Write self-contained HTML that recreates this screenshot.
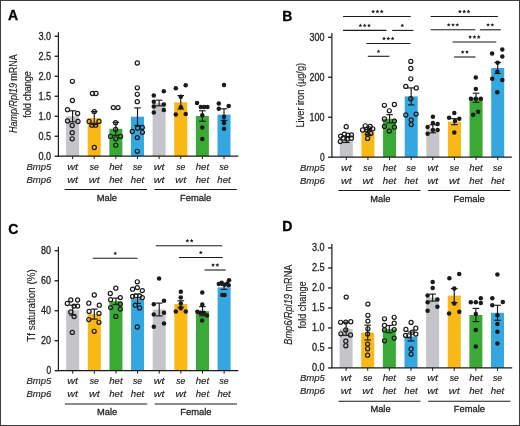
<!DOCTYPE html>
<html><head><meta charset="utf-8"><style>
html,body{margin:0;padding:0;background:#fff;}
body{width:520px;height:426px;overflow:hidden;}
svg{display:block;font-family:"Liberation Sans", sans-serif;will-change:transform;} text{stroke:#222;stroke-width:0.15px;} .tk{stroke-width:0.3px;}
</style></head><body>
<svg width="520" height="426" viewBox="0 0 520 426">
<rect x="0" y="0" width="520" height="426" fill="#fff"/>
<rect x="66.10" y="116.30" width="13.0" height="39.80" fill="#c5c4c9"/>
<rect x="87.73" y="118.10" width="13.0" height="38.00" fill="#fab815"/>
<rect x="109.36" y="128.80" width="13.0" height="27.30" fill="#3aa935"/>
<rect x="130.99" y="116.70" width="13.0" height="39.40" fill="#35a7e0"/>
<rect x="152.62" y="103.00" width="13.0" height="53.10" fill="#c5c4c9"/>
<rect x="174.25" y="102.30" width="13.0" height="53.80" fill="#fab815"/>
<rect x="195.88" y="116.00" width="13.0" height="40.10" fill="#3aa935"/>
<rect x="217.51" y="114.60" width="13.0" height="41.50" fill="#35a7e0"/>
<line x1="72.60" y1="110.80" x2="72.60" y2="121.80" stroke="#1a1a1a" stroke-width="1.15"/>
<line x1="69.30" y1="110.80" x2="75.90" y2="110.80" stroke="#1a1a1a" stroke-width="1.15"/>
<line x1="69.30" y1="121.80" x2="75.90" y2="121.80" stroke="#1a1a1a" stroke-width="1.15"/>
<line x1="94.23" y1="111.60" x2="94.23" y2="124.60" stroke="#1a1a1a" stroke-width="1.15"/>
<line x1="90.93" y1="111.60" x2="97.53" y2="111.60" stroke="#1a1a1a" stroke-width="1.15"/>
<line x1="90.93" y1="124.60" x2="97.53" y2="124.60" stroke="#1a1a1a" stroke-width="1.15"/>
<line x1="115.86" y1="122.30" x2="115.86" y2="135.30" stroke="#1a1a1a" stroke-width="1.15"/>
<line x1="112.56" y1="122.30" x2="119.16" y2="122.30" stroke="#1a1a1a" stroke-width="1.15"/>
<line x1="112.56" y1="135.30" x2="119.16" y2="135.30" stroke="#1a1a1a" stroke-width="1.15"/>
<line x1="137.49" y1="107.90" x2="137.49" y2="125.50" stroke="#1a1a1a" stroke-width="1.15"/>
<line x1="134.19" y1="107.90" x2="140.79" y2="107.90" stroke="#1a1a1a" stroke-width="1.15"/>
<line x1="134.19" y1="125.50" x2="140.79" y2="125.50" stroke="#1a1a1a" stroke-width="1.15"/>
<line x1="159.12" y1="100.20" x2="159.12" y2="105.80" stroke="#1a1a1a" stroke-width="1.15"/>
<line x1="155.82" y1="100.20" x2="162.42" y2="100.20" stroke="#1a1a1a" stroke-width="1.15"/>
<line x1="155.82" y1="105.80" x2="162.42" y2="105.80" stroke="#1a1a1a" stroke-width="1.15"/>
<line x1="180.75" y1="95.60" x2="180.75" y2="109.00" stroke="#1a1a1a" stroke-width="1.15"/>
<line x1="177.45" y1="95.60" x2="184.05" y2="95.60" stroke="#1a1a1a" stroke-width="1.15"/>
<line x1="177.45" y1="109.00" x2="184.05" y2="109.00" stroke="#1a1a1a" stroke-width="1.15"/>
<line x1="202.38" y1="110.80" x2="202.38" y2="121.20" stroke="#1a1a1a" stroke-width="1.15"/>
<line x1="199.08" y1="110.80" x2="205.68" y2="110.80" stroke="#1a1a1a" stroke-width="1.15"/>
<line x1="199.08" y1="121.20" x2="205.68" y2="121.20" stroke="#1a1a1a" stroke-width="1.15"/>
<line x1="224.01" y1="108.80" x2="224.01" y2="120.40" stroke="#1a1a1a" stroke-width="1.15"/>
<line x1="220.71" y1="108.80" x2="227.31" y2="108.80" stroke="#1a1a1a" stroke-width="1.15"/>
<line x1="220.71" y1="120.40" x2="227.31" y2="120.40" stroke="#1a1a1a" stroke-width="1.15"/>
<circle cx="72.40" cy="81.30" r="2.05" fill="none" stroke="#1a1a1a" stroke-width="1.2"/>
<circle cx="72.40" cy="100.50" r="2.05" fill="none" stroke="#1a1a1a" stroke-width="1.2"/>
<circle cx="67.50" cy="109.70" r="2.05" fill="none" stroke="#1a1a1a" stroke-width="1.2"/>
<circle cx="77.60" cy="113.50" r="2.05" fill="none" stroke="#1a1a1a" stroke-width="1.2"/>
<circle cx="67.50" cy="121.00" r="2.05" fill="none" stroke="#1a1a1a" stroke-width="1.2"/>
<circle cx="78.00" cy="121.50" r="2.05" fill="none" stroke="#1a1a1a" stroke-width="1.2"/>
<circle cx="72.20" cy="125.50" r="2.05" fill="none" stroke="#1a1a1a" stroke-width="1.2"/>
<circle cx="72.20" cy="132.70" r="2.05" fill="none" stroke="#1a1a1a" stroke-width="1.2"/>
<circle cx="72.20" cy="138.80" r="2.05" fill="none" stroke="#1a1a1a" stroke-width="1.2"/>
<circle cx="92.40" cy="93.50" r="2.05" fill="none" stroke="#1a1a1a" stroke-width="1.2"/>
<circle cx="96.00" cy="93.50" r="2.05" fill="none" stroke="#1a1a1a" stroke-width="1.2"/>
<circle cx="94.30" cy="111.60" r="2.05" fill="none" stroke="#1a1a1a" stroke-width="1.2"/>
<circle cx="89.10" cy="121.40" r="2.05" fill="none" stroke="#1a1a1a" stroke-width="1.2"/>
<circle cx="99.00" cy="121.40" r="2.05" fill="none" stroke="#1a1a1a" stroke-width="1.2"/>
<circle cx="91.90" cy="125.20" r="2.05" fill="none" stroke="#1a1a1a" stroke-width="1.2"/>
<circle cx="95.70" cy="125.20" r="2.05" fill="none" stroke="#1a1a1a" stroke-width="1.2"/>
<circle cx="94.30" cy="147.50" r="2.05" fill="none" stroke="#1a1a1a" stroke-width="1.2"/>
<circle cx="113.30" cy="107.60" r="2.05" fill="none" stroke="#1a1a1a" stroke-width="1.2"/>
<circle cx="118.00" cy="107.60" r="2.05" fill="none" stroke="#1a1a1a" stroke-width="1.2"/>
<circle cx="115.60" cy="122.70" r="2.05" fill="none" stroke="#1a1a1a" stroke-width="1.2"/>
<circle cx="115.60" cy="129.40" r="2.05" fill="none" stroke="#1a1a1a" stroke-width="1.2"/>
<circle cx="110.60" cy="136.40" r="2.05" fill="none" stroke="#1a1a1a" stroke-width="1.2"/>
<circle cx="120.50" cy="136.40" r="2.05" fill="none" stroke="#1a1a1a" stroke-width="1.2"/>
<circle cx="115.80" cy="138.80" r="2.05" fill="none" stroke="#1a1a1a" stroke-width="1.2"/>
<circle cx="115.80" cy="145.20" r="2.05" fill="none" stroke="#1a1a1a" stroke-width="1.2"/>
<circle cx="137.30" cy="63.00" r="2.05" fill="none" stroke="#1a1a1a" stroke-width="1.2"/>
<circle cx="137.30" cy="87.80" r="2.05" fill="none" stroke="#1a1a1a" stroke-width="1.2"/>
<circle cx="137.30" cy="94.30" r="2.05" fill="none" stroke="#1a1a1a" stroke-width="1.2"/>
<circle cx="137.30" cy="101.70" r="2.05" fill="none" stroke="#1a1a1a" stroke-width="1.2"/>
<circle cx="137.60" cy="128.20" r="2.05" fill="none" stroke="#1a1a1a" stroke-width="1.2"/>
<circle cx="142.30" cy="127.40" r="2.05" fill="none" stroke="#1a1a1a" stroke-width="1.2"/>
<circle cx="132.30" cy="131.50" r="2.05" fill="none" stroke="#1a1a1a" stroke-width="1.2"/>
<circle cx="142.50" cy="132.30" r="2.05" fill="none" stroke="#1a1a1a" stroke-width="1.2"/>
<circle cx="137.30" cy="137.60" r="2.05" fill="none" stroke="#1a1a1a" stroke-width="1.2"/>
<circle cx="137.30" cy="151.30" r="2.05" fill="none" stroke="#1a1a1a" stroke-width="1.2"/>
<circle cx="153.80" cy="95.60" r="2.25" fill="#1a1a1a"/>
<circle cx="163.80" cy="91.20" r="2.25" fill="#1a1a1a"/>
<circle cx="153.80" cy="101.70" r="2.25" fill="#1a1a1a"/>
<circle cx="153.80" cy="106.40" r="2.25" fill="#1a1a1a"/>
<circle cx="163.80" cy="104.60" r="2.25" fill="#1a1a1a"/>
<circle cx="163.80" cy="110.00" r="2.25" fill="#1a1a1a"/>
<circle cx="153.80" cy="112.60" r="2.25" fill="#1a1a1a"/>
<circle cx="175.80" cy="88.20" r="2.25" fill="#1a1a1a"/>
<circle cx="185.70" cy="85.30" r="2.25" fill="#1a1a1a"/>
<circle cx="180.80" cy="96.70" r="2.25" fill="#1a1a1a"/>
<circle cx="180.80" cy="107.20" r="2.25" fill="#1a1a1a"/>
<circle cx="175.80" cy="114.60" r="2.25" fill="#1a1a1a"/>
<circle cx="185.70" cy="114.00" r="2.25" fill="#1a1a1a"/>
<circle cx="197.00" cy="102.90" r="2.25" fill="#1a1a1a"/>
<circle cx="200.80" cy="107.00" r="2.25" fill="#1a1a1a"/>
<circle cx="204.10" cy="107.00" r="2.25" fill="#1a1a1a"/>
<circle cx="207.40" cy="107.00" r="2.25" fill="#1a1a1a"/>
<circle cx="202.30" cy="115.20" r="2.25" fill="#1a1a1a"/>
<circle cx="202.30" cy="127.50" r="2.25" fill="#1a1a1a"/>
<circle cx="202.30" cy="139.00" r="2.25" fill="#1a1a1a"/>
<circle cx="224.00" cy="85.00" r="2.25" fill="#1a1a1a"/>
<circle cx="218.80" cy="103.50" r="2.25" fill="#1a1a1a"/>
<circle cx="228.70" cy="106.10" r="2.25" fill="#1a1a1a"/>
<circle cx="218.80" cy="108.80" r="2.25" fill="#1a1a1a"/>
<circle cx="224.00" cy="116.80" r="2.25" fill="#1a1a1a"/>
<circle cx="224.00" cy="123.10" r="2.25" fill="#1a1a1a"/>
<circle cx="224.00" cy="128.70" r="2.25" fill="#1a1a1a"/>
<line x1="58.4" y1="32.3" x2="58.4" y2="156.6" stroke="#1a1a1a" stroke-width="1.2"/>
<line x1="57.8" y1="156.1" x2="238.3" y2="156.1" stroke="#1a1a1a" stroke-width="1.2"/>
<line x1="54.6" y1="156.25" x2="58.4" y2="156.25" stroke="#1a1a1a" stroke-width="1.3"/>
<text x="51.1" y="159.6" font-size="10.6" text-anchor="end" font-weight="normal" fill="#222" textLength="12.7" lengthAdjust="spacingAndGlyphs" class="tk">0.0</text>
<line x1="54.6" y1="136.25" x2="58.4" y2="136.25" stroke="#1a1a1a" stroke-width="1.3"/>
<text x="51.1" y="139.6" font-size="10.6" text-anchor="end" font-weight="normal" fill="#222" textLength="12.7" lengthAdjust="spacingAndGlyphs" class="tk">0.5</text>
<line x1="54.6" y1="116.25" x2="58.4" y2="116.25" stroke="#1a1a1a" stroke-width="1.3"/>
<text x="51.1" y="119.6" font-size="10.6" text-anchor="end" font-weight="normal" fill="#222" textLength="12.7" lengthAdjust="spacingAndGlyphs" class="tk">1.0</text>
<line x1="54.6" y1="96.25" x2="58.4" y2="96.25" stroke="#1a1a1a" stroke-width="1.3"/>
<text x="51.1" y="99.6" font-size="10.6" text-anchor="end" font-weight="normal" fill="#222" textLength="12.7" lengthAdjust="spacingAndGlyphs" class="tk">1.5</text>
<line x1="54.6" y1="76.25" x2="58.4" y2="76.25" stroke="#1a1a1a" stroke-width="1.3"/>
<text x="51.1" y="79.6" font-size="10.6" text-anchor="end" font-weight="normal" fill="#222" textLength="12.7" lengthAdjust="spacingAndGlyphs" class="tk">2.0</text>
<line x1="54.6" y1="56.25" x2="58.4" y2="56.25" stroke="#1a1a1a" stroke-width="1.3"/>
<text x="51.1" y="59.599999999999994" font-size="10.6" text-anchor="end" font-weight="normal" fill="#222" textLength="12.7" lengthAdjust="spacingAndGlyphs" class="tk">2.5</text>
<line x1="54.6" y1="36.25" x2="58.4" y2="36.25" stroke="#1a1a1a" stroke-width="1.3"/>
<text x="51.1" y="39.599999999999994" font-size="10.6" text-anchor="end" font-weight="normal" fill="#222" textLength="12.7" lengthAdjust="spacingAndGlyphs" class="tk">3.0</text>
<line x1="72.60" y1="156.1" x2="72.60" y2="159.1" stroke="#1a1a1a" stroke-width="1"/>
<line x1="94.23" y1="156.1" x2="94.23" y2="159.1" stroke="#1a1a1a" stroke-width="1"/>
<line x1="115.86" y1="156.1" x2="115.86" y2="159.1" stroke="#1a1a1a" stroke-width="1"/>
<line x1="137.49" y1="156.1" x2="137.49" y2="159.1" stroke="#1a1a1a" stroke-width="1"/>
<line x1="159.12" y1="156.1" x2="159.12" y2="159.1" stroke="#1a1a1a" stroke-width="1"/>
<line x1="180.75" y1="156.1" x2="180.75" y2="159.1" stroke="#1a1a1a" stroke-width="1"/>
<line x1="202.38" y1="156.1" x2="202.38" y2="159.1" stroke="#1a1a1a" stroke-width="1"/>
<line x1="224.01" y1="156.1" x2="224.01" y2="159.1" stroke="#1a1a1a" stroke-width="1"/>
<text x="51.4" y="169.5" font-size="9.6" text-anchor="end" font-weight="normal" font-style="italic" fill="#222" textLength="25" lengthAdjust="spacingAndGlyphs">Bmp5</text>
<text x="51.4" y="182.6" font-size="9.6" text-anchor="end" font-weight="normal" font-style="italic" fill="#222" textLength="25" lengthAdjust="spacingAndGlyphs">Bmp6</text>
<text x="72.60" y="169.5" font-size="9.4" text-anchor="middle" font-weight="normal" font-style="italic" fill="#222" textLength="10.8" lengthAdjust="spacingAndGlyphs">wt</text>
<text x="72.60" y="182.6" font-size="9.4" text-anchor="middle" font-weight="normal" font-style="italic" fill="#222" textLength="10.8" lengthAdjust="spacingAndGlyphs">wt</text>
<text x="94.23" y="169.5" font-size="9.4" text-anchor="middle" font-weight="normal" font-style="italic" fill="#222" textLength="9.2" lengthAdjust="spacingAndGlyphs">se</text>
<text x="94.23" y="182.6" font-size="9.4" text-anchor="middle" font-weight="normal" font-style="italic" fill="#222" textLength="10.8" lengthAdjust="spacingAndGlyphs">wt</text>
<text x="115.86" y="169.5" font-size="9.4" text-anchor="middle" font-weight="normal" font-style="italic" fill="#222" textLength="13.4" lengthAdjust="spacingAndGlyphs">het</text>
<text x="115.86" y="182.6" font-size="9.4" text-anchor="middle" font-weight="normal" font-style="italic" fill="#222" textLength="13.4" lengthAdjust="spacingAndGlyphs">het</text>
<text x="137.49" y="169.5" font-size="9.4" text-anchor="middle" font-weight="normal" font-style="italic" fill="#222" textLength="9.2" lengthAdjust="spacingAndGlyphs">se</text>
<text x="137.49" y="182.6" font-size="9.4" text-anchor="middle" font-weight="normal" font-style="italic" fill="#222" textLength="13.4" lengthAdjust="spacingAndGlyphs">het</text>
<text x="159.12" y="169.5" font-size="9.4" text-anchor="middle" font-weight="normal" font-style="italic" fill="#222" textLength="10.8" lengthAdjust="spacingAndGlyphs">wt</text>
<text x="159.12" y="182.6" font-size="9.4" text-anchor="middle" font-weight="normal" font-style="italic" fill="#222" textLength="10.8" lengthAdjust="spacingAndGlyphs">wt</text>
<text x="180.75" y="169.5" font-size="9.4" text-anchor="middle" font-weight="normal" font-style="italic" fill="#222" textLength="9.2" lengthAdjust="spacingAndGlyphs">se</text>
<text x="180.75" y="182.6" font-size="9.4" text-anchor="middle" font-weight="normal" font-style="italic" fill="#222" textLength="10.8" lengthAdjust="spacingAndGlyphs">wt</text>
<text x="202.38" y="169.5" font-size="9.4" text-anchor="middle" font-weight="normal" font-style="italic" fill="#222" textLength="13.4" lengthAdjust="spacingAndGlyphs">het</text>
<text x="202.38" y="182.6" font-size="9.4" text-anchor="middle" font-weight="normal" font-style="italic" fill="#222" textLength="13.4" lengthAdjust="spacingAndGlyphs">het</text>
<text x="224.01" y="169.5" font-size="9.4" text-anchor="middle" font-weight="normal" font-style="italic" fill="#222" textLength="9.2" lengthAdjust="spacingAndGlyphs">se</text>
<text x="224.01" y="182.6" font-size="9.4" text-anchor="middle" font-weight="normal" font-style="italic" fill="#222" textLength="13.4" lengthAdjust="spacingAndGlyphs">het</text>
<line x1="64.6" y1="189.5" x2="147.0" y2="189.5" stroke="#1a1a1a" stroke-width="1.1"/>
<line x1="154.5" y1="189.5" x2="236.8" y2="189.5" stroke="#1a1a1a" stroke-width="1.1"/>
<text x="106.8" y="200.7" font-size="9.9" text-anchor="middle" font-weight="normal" fill="#222" textLength="20.2" lengthAdjust="spacingAndGlyphs" class="tk">Male</text>
<text x="195.65" y="200.7" font-size="9.9" text-anchor="middle" font-weight="normal" fill="#222" textLength="31.2" lengthAdjust="spacingAndGlyphs" class="tk">Female</text>
<text x="8.0" y="19.6" font-size="14" text-anchor="start" font-weight="bold" fill="#000" style="stroke:#000;stroke-width:0.3px">A</text>
<text transform="translate(17.4,93.6) rotate(-90)" font-size="10" text-anchor="middle" fill="#222" textLength="78.8" lengthAdjust="spacingAndGlyphs"><tspan font-style="italic">Hamp/Rpl19</tspan> mRNA</text>
<text transform="translate(30.9,94.5) rotate(-90)" font-size="10" text-anchor="middle" fill="#222" textLength="46.7" lengthAdjust="spacingAndGlyphs">fold change</text>
<rect x="339.80" y="139.50" width="13.0" height="17.60" fill="#c5c4c9"/>
<rect x="361.43" y="132.00" width="13.0" height="25.10" fill="#fab815"/>
<rect x="383.06" y="118.80" width="13.0" height="38.30" fill="#3aa935"/>
<rect x="404.69" y="96.40" width="13.0" height="60.70" fill="#35a7e0"/>
<rect x="426.32" y="128.80" width="13.0" height="28.30" fill="#c5c4c9"/>
<rect x="447.95" y="121.70" width="13.0" height="35.40" fill="#fab815"/>
<rect x="469.58" y="97.80" width="13.0" height="59.30" fill="#3aa935"/>
<rect x="491.21" y="68.00" width="13.0" height="89.10" fill="#35a7e0"/>
<line x1="346.30" y1="136.50" x2="346.30" y2="142.50" stroke="#1a1a1a" stroke-width="1.15"/>
<line x1="343.00" y1="136.50" x2="349.60" y2="136.50" stroke="#1a1a1a" stroke-width="1.15"/>
<line x1="343.00" y1="142.50" x2="349.60" y2="142.50" stroke="#1a1a1a" stroke-width="1.15"/>
<line x1="367.93" y1="129.50" x2="367.93" y2="134.50" stroke="#1a1a1a" stroke-width="1.15"/>
<line x1="364.63" y1="129.50" x2="371.23" y2="129.50" stroke="#1a1a1a" stroke-width="1.15"/>
<line x1="364.63" y1="134.50" x2="371.23" y2="134.50" stroke="#1a1a1a" stroke-width="1.15"/>
<line x1="389.56" y1="114.70" x2="389.56" y2="122.90" stroke="#1a1a1a" stroke-width="1.15"/>
<line x1="386.26" y1="114.70" x2="392.86" y2="114.70" stroke="#1a1a1a" stroke-width="1.15"/>
<line x1="386.26" y1="122.90" x2="392.86" y2="122.90" stroke="#1a1a1a" stroke-width="1.15"/>
<line x1="411.19" y1="87.90" x2="411.19" y2="104.90" stroke="#1a1a1a" stroke-width="1.15"/>
<line x1="407.89" y1="87.90" x2="414.49" y2="87.90" stroke="#1a1a1a" stroke-width="1.15"/>
<line x1="407.89" y1="104.90" x2="414.49" y2="104.90" stroke="#1a1a1a" stroke-width="1.15"/>
<line x1="432.82" y1="124.80" x2="432.82" y2="132.80" stroke="#1a1a1a" stroke-width="1.15"/>
<line x1="429.52" y1="124.80" x2="436.12" y2="124.80" stroke="#1a1a1a" stroke-width="1.15"/>
<line x1="429.52" y1="132.80" x2="436.12" y2="132.80" stroke="#1a1a1a" stroke-width="1.15"/>
<line x1="454.45" y1="118.70" x2="454.45" y2="124.70" stroke="#1a1a1a" stroke-width="1.15"/>
<line x1="451.15" y1="118.70" x2="457.75" y2="118.70" stroke="#1a1a1a" stroke-width="1.15"/>
<line x1="451.15" y1="124.70" x2="457.75" y2="124.70" stroke="#1a1a1a" stroke-width="1.15"/>
<line x1="476.08" y1="93.20" x2="476.08" y2="102.40" stroke="#1a1a1a" stroke-width="1.15"/>
<line x1="472.78" y1="93.20" x2="479.38" y2="93.20" stroke="#1a1a1a" stroke-width="1.15"/>
<line x1="472.78" y1="102.40" x2="479.38" y2="102.40" stroke="#1a1a1a" stroke-width="1.15"/>
<line x1="497.71" y1="62.50" x2="497.71" y2="73.50" stroke="#1a1a1a" stroke-width="1.15"/>
<line x1="494.41" y1="62.50" x2="501.01" y2="62.50" stroke="#1a1a1a" stroke-width="1.15"/>
<line x1="494.41" y1="73.50" x2="501.01" y2="73.50" stroke="#1a1a1a" stroke-width="1.15"/>
<circle cx="346.20" cy="126.70" r="2.05" fill="none" stroke="#1a1a1a" stroke-width="1.2"/>
<circle cx="340.60" cy="136.10" r="2.05" fill="none" stroke="#1a1a1a" stroke-width="1.2"/>
<circle cx="344.40" cy="134.10" r="2.05" fill="none" stroke="#1a1a1a" stroke-width="1.2"/>
<circle cx="347.90" cy="135.20" r="2.05" fill="none" stroke="#1a1a1a" stroke-width="1.2"/>
<circle cx="351.40" cy="134.90" r="2.05" fill="none" stroke="#1a1a1a" stroke-width="1.2"/>
<circle cx="343.20" cy="138.20" r="2.05" fill="none" stroke="#1a1a1a" stroke-width="1.2"/>
<circle cx="347.30" cy="139.10" r="2.05" fill="none" stroke="#1a1a1a" stroke-width="1.2"/>
<circle cx="351.40" cy="138.20" r="2.05" fill="none" stroke="#1a1a1a" stroke-width="1.2"/>
<circle cx="340.30" cy="141.50" r="2.05" fill="none" stroke="#1a1a1a" stroke-width="1.2"/>
<circle cx="365.30" cy="125.80" r="2.05" fill="none" stroke="#1a1a1a" stroke-width="1.2"/>
<circle cx="370.20" cy="126.40" r="2.05" fill="none" stroke="#1a1a1a" stroke-width="1.2"/>
<circle cx="362.60" cy="130.00" r="2.05" fill="none" stroke="#1a1a1a" stroke-width="1.2"/>
<circle cx="366.50" cy="129.40" r="2.05" fill="none" stroke="#1a1a1a" stroke-width="1.2"/>
<circle cx="369.60" cy="128.80" r="2.05" fill="none" stroke="#1a1a1a" stroke-width="1.2"/>
<circle cx="372.80" cy="128.80" r="2.05" fill="none" stroke="#1a1a1a" stroke-width="1.2"/>
<circle cx="367.60" cy="134.10" r="2.05" fill="none" stroke="#1a1a1a" stroke-width="1.2"/>
<circle cx="370.80" cy="133.50" r="2.05" fill="none" stroke="#1a1a1a" stroke-width="1.2"/>
<circle cx="367.60" cy="138.40" r="2.05" fill="none" stroke="#1a1a1a" stroke-width="1.2"/>
<circle cx="384.40" cy="105.30" r="2.05" fill="none" stroke="#1a1a1a" stroke-width="1.2"/>
<circle cx="394.40" cy="104.50" r="2.05" fill="none" stroke="#1a1a1a" stroke-width="1.2"/>
<circle cx="389.30" cy="110.80" r="2.05" fill="none" stroke="#1a1a1a" stroke-width="1.2"/>
<circle cx="384.40" cy="119.00" r="2.05" fill="none" stroke="#1a1a1a" stroke-width="1.2"/>
<circle cx="394.40" cy="121.10" r="2.05" fill="none" stroke="#1a1a1a" stroke-width="1.2"/>
<circle cx="384.40" cy="126.40" r="2.05" fill="none" stroke="#1a1a1a" stroke-width="1.2"/>
<circle cx="394.40" cy="127.20" r="2.05" fill="none" stroke="#1a1a1a" stroke-width="1.2"/>
<circle cx="389.30" cy="131.10" r="2.05" fill="none" stroke="#1a1a1a" stroke-width="1.2"/>
<circle cx="410.80" cy="61.40" r="2.05" fill="none" stroke="#1a1a1a" stroke-width="1.2"/>
<circle cx="410.80" cy="68.50" r="2.05" fill="none" stroke="#1a1a1a" stroke-width="1.2"/>
<circle cx="410.80" cy="78.80" r="2.05" fill="none" stroke="#1a1a1a" stroke-width="1.2"/>
<circle cx="405.80" cy="86.40" r="2.05" fill="none" stroke="#1a1a1a" stroke-width="1.2"/>
<circle cx="416.30" cy="87.90" r="2.05" fill="none" stroke="#1a1a1a" stroke-width="1.2"/>
<circle cx="410.80" cy="98.70" r="2.05" fill="none" stroke="#1a1a1a" stroke-width="1.2"/>
<circle cx="405.80" cy="115.00" r="2.05" fill="none" stroke="#1a1a1a" stroke-width="1.2"/>
<circle cx="416.10" cy="114.10" r="2.05" fill="none" stroke="#1a1a1a" stroke-width="1.2"/>
<circle cx="411.20" cy="120.00" r="2.05" fill="none" stroke="#1a1a1a" stroke-width="1.2"/>
<circle cx="411.20" cy="124.60" r="2.05" fill="none" stroke="#1a1a1a" stroke-width="1.2"/>
<circle cx="432.90" cy="116.70" r="2.25" fill="#1a1a1a"/>
<circle cx="432.90" cy="122.90" r="2.25" fill="#1a1a1a"/>
<circle cx="437.60" cy="124.10" r="2.25" fill="#1a1a1a"/>
<circle cx="427.60" cy="127.00" r="2.25" fill="#1a1a1a"/>
<circle cx="432.90" cy="129.90" r="2.25" fill="#1a1a1a"/>
<circle cx="437.60" cy="129.90" r="2.25" fill="#1a1a1a"/>
<circle cx="427.60" cy="133.80" r="2.25" fill="#1a1a1a"/>
<circle cx="454.30" cy="113.10" r="2.25" fill="#1a1a1a"/>
<circle cx="449.10" cy="117.80" r="2.25" fill="#1a1a1a"/>
<circle cx="459.30" cy="118.80" r="2.25" fill="#1a1a1a"/>
<circle cx="455.00" cy="120.90" r="2.25" fill="#1a1a1a"/>
<circle cx="454.30" cy="132.60" r="2.25" fill="#1a1a1a"/>
<circle cx="475.80" cy="77.40" r="2.25" fill="#1a1a1a"/>
<circle cx="475.80" cy="89.10" r="2.25" fill="#1a1a1a"/>
<circle cx="470.90" cy="98.70" r="2.25" fill="#1a1a1a"/>
<circle cx="475.80" cy="98.70" r="2.25" fill="#1a1a1a"/>
<circle cx="480.80" cy="98.70" r="2.25" fill="#1a1a1a"/>
<circle cx="478.10" cy="111.70" r="2.25" fill="#1a1a1a"/>
<circle cx="473.20" cy="114.70" r="2.25" fill="#1a1a1a"/>
<circle cx="502.30" cy="49.60" r="2.25" fill="#1a1a1a"/>
<circle cx="492.10" cy="53.50" r="2.25" fill="#1a1a1a"/>
<circle cx="502.30" cy="56.50" r="2.25" fill="#1a1a1a"/>
<circle cx="497.60" cy="62.70" r="2.25" fill="#1a1a1a"/>
<circle cx="492.20" cy="78.80" r="2.25" fill="#1a1a1a"/>
<circle cx="502.30" cy="80.00" r="2.25" fill="#1a1a1a"/>
<circle cx="497.30" cy="92.30" r="2.25" fill="#1a1a1a"/>
<circle cx="497.30" cy="71.70" r="2.25" fill="#1a1a1a"/>
<line x1="331.9" y1="33.1" x2="331.9" y2="157.6" stroke="#1a1a1a" stroke-width="1.2"/>
<line x1="331.29999999999995" y1="157.1" x2="511.8" y2="157.1" stroke="#1a1a1a" stroke-width="1.2"/>
<line x1="328.09999999999997" y1="157.25" x2="331.9" y2="157.25" stroke="#1a1a1a" stroke-width="1.3"/>
<text x="324.59999999999997" y="160.6" font-size="10.6" text-anchor="end" font-weight="normal" fill="#222" textLength="4.7" lengthAdjust="spacingAndGlyphs" class="tk">0</text>
<line x1="328.09999999999997" y1="117.25" x2="331.9" y2="117.25" stroke="#1a1a1a" stroke-width="1.3"/>
<text x="324.59999999999997" y="120.6" font-size="10.6" text-anchor="end" font-weight="normal" fill="#222" textLength="15.0" lengthAdjust="spacingAndGlyphs" class="tk">100</text>
<line x1="328.09999999999997" y1="77.25" x2="331.9" y2="77.25" stroke="#1a1a1a" stroke-width="1.3"/>
<text x="324.59999999999997" y="80.6" font-size="10.6" text-anchor="end" font-weight="normal" fill="#222" textLength="15.0" lengthAdjust="spacingAndGlyphs" class="tk">200</text>
<line x1="328.09999999999997" y1="37.25" x2="331.9" y2="37.25" stroke="#1a1a1a" stroke-width="1.3"/>
<text x="324.59999999999997" y="40.599999999999994" font-size="10.6" text-anchor="end" font-weight="normal" fill="#222" textLength="15.0" lengthAdjust="spacingAndGlyphs" class="tk">300</text>
<line x1="346.30" y1="157.1" x2="346.30" y2="160.1" stroke="#1a1a1a" stroke-width="1"/>
<line x1="367.93" y1="157.1" x2="367.93" y2="160.1" stroke="#1a1a1a" stroke-width="1"/>
<line x1="389.56" y1="157.1" x2="389.56" y2="160.1" stroke="#1a1a1a" stroke-width="1"/>
<line x1="411.19" y1="157.1" x2="411.19" y2="160.1" stroke="#1a1a1a" stroke-width="1"/>
<line x1="432.82" y1="157.1" x2="432.82" y2="160.1" stroke="#1a1a1a" stroke-width="1"/>
<line x1="454.45" y1="157.1" x2="454.45" y2="160.1" stroke="#1a1a1a" stroke-width="1"/>
<line x1="476.08" y1="157.1" x2="476.08" y2="160.1" stroke="#1a1a1a" stroke-width="1"/>
<line x1="497.71" y1="157.1" x2="497.71" y2="160.1" stroke="#1a1a1a" stroke-width="1"/>
<text x="324.9" y="170.5" font-size="9.6" text-anchor="end" font-weight="normal" font-style="italic" fill="#222" textLength="25" lengthAdjust="spacingAndGlyphs">Bmp5</text>
<text x="324.9" y="183.6" font-size="9.6" text-anchor="end" font-weight="normal" font-style="italic" fill="#222" textLength="25" lengthAdjust="spacingAndGlyphs">Bmp6</text>
<text x="346.30" y="170.5" font-size="9.4" text-anchor="middle" font-weight="normal" font-style="italic" fill="#222" textLength="10.8" lengthAdjust="spacingAndGlyphs">wt</text>
<text x="346.30" y="183.6" font-size="9.4" text-anchor="middle" font-weight="normal" font-style="italic" fill="#222" textLength="10.8" lengthAdjust="spacingAndGlyphs">wt</text>
<text x="367.93" y="170.5" font-size="9.4" text-anchor="middle" font-weight="normal" font-style="italic" fill="#222" textLength="9.2" lengthAdjust="spacingAndGlyphs">se</text>
<text x="367.93" y="183.6" font-size="9.4" text-anchor="middle" font-weight="normal" font-style="italic" fill="#222" textLength="10.8" lengthAdjust="spacingAndGlyphs">wt</text>
<text x="389.56" y="170.5" font-size="9.4" text-anchor="middle" font-weight="normal" font-style="italic" fill="#222" textLength="13.4" lengthAdjust="spacingAndGlyphs">het</text>
<text x="389.56" y="183.6" font-size="9.4" text-anchor="middle" font-weight="normal" font-style="italic" fill="#222" textLength="13.4" lengthAdjust="spacingAndGlyphs">het</text>
<text x="411.19" y="170.5" font-size="9.4" text-anchor="middle" font-weight="normal" font-style="italic" fill="#222" textLength="9.2" lengthAdjust="spacingAndGlyphs">se</text>
<text x="411.19" y="183.6" font-size="9.4" text-anchor="middle" font-weight="normal" font-style="italic" fill="#222" textLength="13.4" lengthAdjust="spacingAndGlyphs">het</text>
<text x="432.82" y="170.5" font-size="9.4" text-anchor="middle" font-weight="normal" font-style="italic" fill="#222" textLength="10.8" lengthAdjust="spacingAndGlyphs">wt</text>
<text x="432.82" y="183.6" font-size="9.4" text-anchor="middle" font-weight="normal" font-style="italic" fill="#222" textLength="10.8" lengthAdjust="spacingAndGlyphs">wt</text>
<text x="454.45" y="170.5" font-size="9.4" text-anchor="middle" font-weight="normal" font-style="italic" fill="#222" textLength="9.2" lengthAdjust="spacingAndGlyphs">se</text>
<text x="454.45" y="183.6" font-size="9.4" text-anchor="middle" font-weight="normal" font-style="italic" fill="#222" textLength="10.8" lengthAdjust="spacingAndGlyphs">wt</text>
<text x="476.08" y="170.5" font-size="9.4" text-anchor="middle" font-weight="normal" font-style="italic" fill="#222" textLength="13.4" lengthAdjust="spacingAndGlyphs">het</text>
<text x="476.08" y="183.6" font-size="9.4" text-anchor="middle" font-weight="normal" font-style="italic" fill="#222" textLength="13.4" lengthAdjust="spacingAndGlyphs">het</text>
<text x="497.71" y="170.5" font-size="9.4" text-anchor="middle" font-weight="normal" font-style="italic" fill="#222" textLength="9.2" lengthAdjust="spacingAndGlyphs">se</text>
<text x="497.71" y="183.6" font-size="9.4" text-anchor="middle" font-weight="normal" font-style="italic" fill="#222" textLength="13.4" lengthAdjust="spacingAndGlyphs">het</text>
<line x1="338.3" y1="190.5" x2="420.5" y2="190.5" stroke="#1a1a1a" stroke-width="1.1"/>
<line x1="428.1" y1="190.5" x2="510.3" y2="190.5" stroke="#1a1a1a" stroke-width="1.1"/>
<text x="380.4" y="201.7" font-size="9.9" text-anchor="middle" font-weight="normal" fill="#222" textLength="20.2" lengthAdjust="spacingAndGlyphs" class="tk">Male</text>
<text x="469.20000000000005" y="201.7" font-size="9.9" text-anchor="middle" font-weight="normal" fill="#222" textLength="31.2" lengthAdjust="spacingAndGlyphs" class="tk">Female</text>
<text x="282.3" y="20.5" font-size="14" text-anchor="start" font-weight="bold" fill="#000" style="stroke:#000;stroke-width:0.3px">B</text>
<text transform="translate(304.2,95.2) rotate(-90)" font-size="10" text-anchor="middle" fill="#222" textLength="64.6" lengthAdjust="spacingAndGlyphs">Liver iron (µg/g)</text>
<line x1="343.1" y1="16.5" x2="410.8" y2="16.5" stroke="#1a1a1a" stroke-width="1.1"/>
<polygon points="373.10,9.60 373.66,10.83 375.00,10.98 374.00,11.89 374.28,13.22 373.10,12.55 371.92,13.22 372.20,11.89 371.20,10.98 372.54,10.83" fill="#1e1e1e"/>
<polygon points="377.40,9.60 377.96,10.83 379.30,10.98 378.30,11.89 378.58,13.22 377.40,12.55 376.22,13.22 376.50,11.89 375.50,10.98 376.84,10.83" fill="#1e1e1e"/>
<polygon points="381.70,9.60 382.26,10.83 383.60,10.98 382.60,11.89 382.88,13.22 381.70,12.55 380.52,13.22 380.80,11.89 379.80,10.98 381.14,10.83" fill="#1e1e1e"/>
<line x1="343.1" y1="30.4" x2="386.5" y2="30.4" stroke="#1a1a1a" stroke-width="1.1"/>
<polygon points="360.40,23.50 360.96,24.73 362.30,24.88 361.30,25.79 361.58,27.12 360.40,26.45 359.22,27.12 359.50,25.79 358.50,24.88 359.84,24.73" fill="#1e1e1e"/>
<polygon points="364.70,23.50 365.26,24.73 366.60,24.88 365.60,25.79 365.88,27.12 364.70,26.45 363.52,27.12 363.80,25.79 362.80,24.88 364.14,24.73" fill="#1e1e1e"/>
<polygon points="369.00,23.50 369.56,24.73 370.90,24.88 369.90,25.79 370.18,27.12 369.00,26.45 367.82,27.12 368.10,25.79 367.10,24.88 368.44,24.73" fill="#1e1e1e"/>
<line x1="392.2" y1="30.4" x2="413.4" y2="30.4" stroke="#1a1a1a" stroke-width="1.1"/>
<polygon points="402.30,23.50 402.86,24.73 404.20,24.88 403.20,25.79 403.48,27.12 402.30,26.45 401.12,27.12 401.40,25.79 400.40,24.88 401.74,24.73" fill="#1e1e1e"/>
<line x1="366.3" y1="43.5" x2="410.4" y2="43.5" stroke="#1a1a1a" stroke-width="1.1"/>
<polygon points="384.00,36.60 384.56,37.83 385.90,37.98 384.90,38.89 385.18,40.22 384.00,39.55 382.82,40.22 383.10,38.89 382.10,37.98 383.44,37.83" fill="#1e1e1e"/>
<polygon points="388.30,36.60 388.86,37.83 390.20,37.98 389.20,38.89 389.48,40.22 388.30,39.55 387.12,40.22 387.40,38.89 386.40,37.98 387.74,37.83" fill="#1e1e1e"/>
<polygon points="392.60,36.60 393.16,37.83 394.50,37.98 393.50,38.89 393.78,40.22 392.60,39.55 391.42,40.22 391.70,38.89 390.70,37.98 392.04,37.83" fill="#1e1e1e"/>
<line x1="367.8" y1="56.3" x2="389.4" y2="56.3" stroke="#1a1a1a" stroke-width="1.1"/>
<polygon points="378.50,49.40 379.06,50.63 380.40,50.78 379.40,51.69 379.68,53.02 378.50,52.35 377.32,53.02 377.60,51.69 376.60,50.78 377.94,50.63" fill="#1e1e1e"/>
<line x1="430.6" y1="16.5" x2="497.9" y2="16.5" stroke="#1a1a1a" stroke-width="1.1"/>
<polygon points="459.90,9.60 460.46,10.83 461.80,10.98 460.80,11.89 461.08,13.22 459.90,12.55 458.72,13.22 459.00,11.89 458.00,10.98 459.34,10.83" fill="#1e1e1e"/>
<polygon points="464.20,9.60 464.76,10.83 466.10,10.98 465.10,11.89 465.38,13.22 464.20,12.55 463.02,13.22 463.30,11.89 462.30,10.98 463.64,10.83" fill="#1e1e1e"/>
<polygon points="468.50,9.60 469.06,10.83 470.40,10.98 469.40,11.89 469.68,13.22 468.50,12.55 467.32,13.22 467.60,11.89 466.60,10.98 467.94,10.83" fill="#1e1e1e"/>
<line x1="430.6" y1="29.8" x2="475.2" y2="29.8" stroke="#1a1a1a" stroke-width="1.1"/>
<polygon points="448.70,22.90 449.26,24.13 450.60,24.28 449.60,25.19 449.88,26.52 448.70,25.85 447.52,26.52 447.80,25.19 446.80,24.28 448.14,24.13" fill="#1e1e1e"/>
<polygon points="453.00,22.90 453.56,24.13 454.90,24.28 453.90,25.19 454.18,26.52 453.00,25.85 451.82,26.52 452.10,25.19 451.10,24.28 452.44,24.13" fill="#1e1e1e"/>
<polygon points="457.30,22.90 457.86,24.13 459.20,24.28 458.20,25.19 458.48,26.52 457.30,25.85 456.12,26.52 456.40,25.19 455.40,24.28 456.74,24.13" fill="#1e1e1e"/>
<line x1="479.8" y1="29.8" x2="500.8" y2="29.8" stroke="#1a1a1a" stroke-width="1.1"/>
<polygon points="488.05,22.90 488.61,24.13 489.95,24.28 488.95,25.19 489.23,26.52 488.05,25.85 486.87,26.52 487.15,25.19 486.15,24.28 487.49,24.13" fill="#1e1e1e"/>
<polygon points="492.35,22.90 492.91,24.13 494.25,24.28 493.25,25.19 493.53,26.52 492.35,25.85 491.17,26.52 491.45,25.19 490.45,24.28 491.79,24.13" fill="#1e1e1e"/>
<line x1="452.5" y1="42.0" x2="496.2" y2="42.0" stroke="#1a1a1a" stroke-width="1.1"/>
<polygon points="470.10,35.10 470.66,36.33 472.00,36.48 471.00,37.39 471.28,38.72 470.10,38.05 468.92,38.72 469.20,37.39 468.20,36.48 469.54,36.33" fill="#1e1e1e"/>
<polygon points="474.40,35.10 474.96,36.33 476.30,36.48 475.30,37.39 475.58,38.72 474.40,38.05 473.22,38.72 473.50,37.39 472.50,36.48 473.84,36.33" fill="#1e1e1e"/>
<polygon points="478.70,35.10 479.26,36.33 480.60,36.48 479.60,37.39 479.88,38.72 478.70,38.05 477.52,38.72 477.80,37.39 476.80,36.48 478.14,36.33" fill="#1e1e1e"/>
<line x1="454.1" y1="57.0" x2="475.5" y2="57.0" stroke="#1a1a1a" stroke-width="1.1"/>
<polygon points="462.65,50.10 463.21,51.33 464.55,51.48 463.55,52.39 463.83,53.72 462.65,53.05 461.47,53.72 461.75,52.39 460.75,51.48 462.09,51.33" fill="#1e1e1e"/>
<polygon points="466.95,50.10 467.51,51.33 468.85,51.48 467.85,52.39 468.13,53.72 466.95,53.05 465.77,53.72 466.05,52.39 465.05,51.48 466.39,51.33" fill="#1e1e1e"/>
<rect x="66.20" y="310.20" width="13.0" height="60.40" fill="#c5c4c9"/>
<rect x="87.83" y="314.10" width="13.0" height="56.50" fill="#fab815"/>
<rect x="109.46" y="301.30" width="13.0" height="69.30" fill="#3aa935"/>
<rect x="131.09" y="298.80" width="13.0" height="71.80" fill="#35a7e0"/>
<rect x="152.72" y="309.50" width="13.0" height="61.10" fill="#c5c4c9"/>
<rect x="174.35" y="304.00" width="13.0" height="66.60" fill="#fab815"/>
<rect x="195.98" y="311.20" width="13.0" height="59.40" fill="#3aa935"/>
<rect x="217.61" y="287.40" width="13.0" height="83.20" fill="#35a7e0"/>
<line x1="72.70" y1="305.20" x2="72.70" y2="315.20" stroke="#1a1a1a" stroke-width="1.15"/>
<line x1="69.40" y1="305.20" x2="76.00" y2="305.20" stroke="#1a1a1a" stroke-width="1.15"/>
<line x1="69.40" y1="315.20" x2="76.00" y2="315.20" stroke="#1a1a1a" stroke-width="1.15"/>
<line x1="94.33" y1="309.10" x2="94.33" y2="319.10" stroke="#1a1a1a" stroke-width="1.15"/>
<line x1="91.03" y1="309.10" x2="97.63" y2="309.10" stroke="#1a1a1a" stroke-width="1.15"/>
<line x1="91.03" y1="319.10" x2="97.63" y2="319.10" stroke="#1a1a1a" stroke-width="1.15"/>
<line x1="115.96" y1="298.10" x2="115.96" y2="304.50" stroke="#1a1a1a" stroke-width="1.15"/>
<line x1="112.66" y1="298.10" x2="119.26" y2="298.10" stroke="#1a1a1a" stroke-width="1.15"/>
<line x1="112.66" y1="304.50" x2="119.26" y2="304.50" stroke="#1a1a1a" stroke-width="1.15"/>
<line x1="137.59" y1="294.10" x2="137.59" y2="303.50" stroke="#1a1a1a" stroke-width="1.15"/>
<line x1="134.29" y1="294.10" x2="140.89" y2="294.10" stroke="#1a1a1a" stroke-width="1.15"/>
<line x1="134.29" y1="303.50" x2="140.89" y2="303.50" stroke="#1a1a1a" stroke-width="1.15"/>
<line x1="159.22" y1="303.10" x2="159.22" y2="315.90" stroke="#1a1a1a" stroke-width="1.15"/>
<line x1="155.92" y1="303.10" x2="162.52" y2="303.10" stroke="#1a1a1a" stroke-width="1.15"/>
<line x1="155.92" y1="315.90" x2="162.52" y2="315.90" stroke="#1a1a1a" stroke-width="1.15"/>
<line x1="180.85" y1="300.80" x2="180.85" y2="307.20" stroke="#1a1a1a" stroke-width="1.15"/>
<line x1="177.55" y1="300.80" x2="184.15" y2="300.80" stroke="#1a1a1a" stroke-width="1.15"/>
<line x1="177.55" y1="307.20" x2="184.15" y2="307.20" stroke="#1a1a1a" stroke-width="1.15"/>
<line x1="202.48" y1="306.60" x2="202.48" y2="315.80" stroke="#1a1a1a" stroke-width="1.15"/>
<line x1="199.18" y1="306.60" x2="205.78" y2="306.60" stroke="#1a1a1a" stroke-width="1.15"/>
<line x1="199.18" y1="315.80" x2="205.78" y2="315.80" stroke="#1a1a1a" stroke-width="1.15"/>
<line x1="224.11" y1="285.40" x2="224.11" y2="289.40" stroke="#1a1a1a" stroke-width="1.15"/>
<line x1="220.81" y1="285.40" x2="227.41" y2="285.40" stroke="#1a1a1a" stroke-width="1.15"/>
<line x1="220.81" y1="289.40" x2="227.41" y2="289.40" stroke="#1a1a1a" stroke-width="1.15"/>
<circle cx="70.80" cy="300.00" r="2.05" fill="none" stroke="#1a1a1a" stroke-width="1.2"/>
<circle cx="77.60" cy="300.00" r="2.05" fill="none" stroke="#1a1a1a" stroke-width="1.2"/>
<circle cx="67.30" cy="303.50" r="2.05" fill="none" stroke="#1a1a1a" stroke-width="1.2"/>
<circle cx="74.10" cy="306.10" r="2.05" fill="none" stroke="#1a1a1a" stroke-width="1.2"/>
<circle cx="77.60" cy="306.10" r="2.05" fill="none" stroke="#1a1a1a" stroke-width="1.2"/>
<circle cx="70.80" cy="312.00" r="2.05" fill="none" stroke="#1a1a1a" stroke-width="1.2"/>
<circle cx="74.10" cy="316.50" r="2.05" fill="none" stroke="#1a1a1a" stroke-width="1.2"/>
<circle cx="72.30" cy="332.40" r="2.05" fill="none" stroke="#1a1a1a" stroke-width="1.2"/>
<circle cx="94.30" cy="295.00" r="2.05" fill="none" stroke="#1a1a1a" stroke-width="1.2"/>
<circle cx="88.80" cy="303.20" r="2.05" fill="none" stroke="#1a1a1a" stroke-width="1.2"/>
<circle cx="99.30" cy="305.20" r="2.05" fill="none" stroke="#1a1a1a" stroke-width="1.2"/>
<circle cx="89.10" cy="311.40" r="2.05" fill="none" stroke="#1a1a1a" stroke-width="1.2"/>
<circle cx="99.00" cy="313.40" r="2.05" fill="none" stroke="#1a1a1a" stroke-width="1.2"/>
<circle cx="88.80" cy="319.60" r="2.05" fill="none" stroke="#1a1a1a" stroke-width="1.2"/>
<circle cx="99.00" cy="322.30" r="2.05" fill="none" stroke="#1a1a1a" stroke-width="1.2"/>
<circle cx="94.20" cy="331.30" r="2.05" fill="none" stroke="#1a1a1a" stroke-width="1.2"/>
<circle cx="115.80" cy="288.20" r="2.05" fill="none" stroke="#1a1a1a" stroke-width="1.2"/>
<circle cx="110.30" cy="293.50" r="2.05" fill="none" stroke="#1a1a1a" stroke-width="1.2"/>
<circle cx="120.30" cy="297.60" r="2.05" fill="none" stroke="#1a1a1a" stroke-width="1.2"/>
<circle cx="110.60" cy="299.70" r="2.05" fill="none" stroke="#1a1a1a" stroke-width="1.2"/>
<circle cx="120.30" cy="304.10" r="2.05" fill="none" stroke="#1a1a1a" stroke-width="1.2"/>
<circle cx="110.60" cy="307.60" r="2.05" fill="none" stroke="#1a1a1a" stroke-width="1.2"/>
<circle cx="120.30" cy="309.10" r="2.05" fill="none" stroke="#1a1a1a" stroke-width="1.2"/>
<circle cx="115.80" cy="316.40" r="2.05" fill="none" stroke="#1a1a1a" stroke-width="1.2"/>
<circle cx="137.30" cy="281.80" r="2.05" fill="none" stroke="#1a1a1a" stroke-width="1.2"/>
<circle cx="132.60" cy="289.20" r="2.05" fill="none" stroke="#1a1a1a" stroke-width="1.2"/>
<circle cx="137.30" cy="287.60" r="2.05" fill="none" stroke="#1a1a1a" stroke-width="1.2"/>
<circle cx="142.30" cy="290.60" r="2.05" fill="none" stroke="#1a1a1a" stroke-width="1.2"/>
<circle cx="132.60" cy="296.40" r="2.05" fill="none" stroke="#1a1a1a" stroke-width="1.2"/>
<circle cx="135.80" cy="295.80" r="2.05" fill="none" stroke="#1a1a1a" stroke-width="1.2"/>
<circle cx="139.60" cy="295.80" r="2.05" fill="none" stroke="#1a1a1a" stroke-width="1.2"/>
<circle cx="142.30" cy="297.60" r="2.05" fill="none" stroke="#1a1a1a" stroke-width="1.2"/>
<circle cx="135.30" cy="305.20" r="2.05" fill="none" stroke="#1a1a1a" stroke-width="1.2"/>
<circle cx="139.60" cy="307.90" r="2.05" fill="none" stroke="#1a1a1a" stroke-width="1.2"/>
<circle cx="137.30" cy="327.00" r="2.05" fill="none" stroke="#1a1a1a" stroke-width="1.2"/>
<circle cx="159.10" cy="278.50" r="2.25" fill="#1a1a1a"/>
<circle cx="164.00" cy="300.80" r="2.25" fill="#1a1a1a"/>
<circle cx="153.80" cy="304.30" r="2.25" fill="#1a1a1a"/>
<circle cx="153.80" cy="314.40" r="2.25" fill="#1a1a1a"/>
<circle cx="164.00" cy="312.80" r="2.25" fill="#1a1a1a"/>
<circle cx="153.80" cy="326.70" r="2.25" fill="#1a1a1a"/>
<circle cx="164.00" cy="323.50" r="2.25" fill="#1a1a1a"/>
<circle cx="180.80" cy="291.70" r="2.25" fill="#1a1a1a"/>
<circle cx="180.80" cy="297.60" r="2.25" fill="#1a1a1a"/>
<circle cx="180.80" cy="303.50" r="2.25" fill="#1a1a1a"/>
<circle cx="175.80" cy="311.40" r="2.25" fill="#1a1a1a"/>
<circle cx="185.80" cy="311.40" r="2.25" fill="#1a1a1a"/>
<circle cx="180.80" cy="308.30" r="2.25" fill="#1a1a1a"/>
<circle cx="202.30" cy="292.50" r="2.25" fill="#1a1a1a"/>
<circle cx="202.30" cy="304.40" r="2.25" fill="#1a1a1a"/>
<circle cx="197.30" cy="311.70" r="2.25" fill="#1a1a1a"/>
<circle cx="200.30" cy="312.70" r="2.25" fill="#1a1a1a"/>
<circle cx="203.80" cy="312.70" r="2.25" fill="#1a1a1a"/>
<circle cx="207.00" cy="315.50" r="2.25" fill="#1a1a1a"/>
<circle cx="202.10" cy="320.50" r="2.25" fill="#1a1a1a"/>
<circle cx="218.80" cy="284.10" r="2.25" fill="#1a1a1a"/>
<circle cx="221.70" cy="282.70" r="2.25" fill="#1a1a1a"/>
<circle cx="224.60" cy="284.70" r="2.25" fill="#1a1a1a"/>
<circle cx="229.00" cy="280.30" r="2.25" fill="#1a1a1a"/>
<circle cx="227.30" cy="283.50" r="2.25" fill="#1a1a1a"/>
<circle cx="228.70" cy="285.30" r="2.25" fill="#1a1a1a"/>
<circle cx="222.30" cy="294.90" r="2.25" fill="#1a1a1a"/>
<circle cx="224.60" cy="294.90" r="2.25" fill="#1a1a1a"/>
<line x1="58.4" y1="246.8" x2="58.4" y2="371.1" stroke="#1a1a1a" stroke-width="1.2"/>
<line x1="57.8" y1="370.6" x2="238.3" y2="370.6" stroke="#1a1a1a" stroke-width="1.2"/>
<line x1="54.6" y1="370.75" x2="58.4" y2="370.75" stroke="#1a1a1a" stroke-width="1.3"/>
<text x="51.1" y="374.1" font-size="10.6" text-anchor="end" font-weight="normal" fill="#222" textLength="4.7" lengthAdjust="spacingAndGlyphs" class="tk">0</text>
<line x1="54.6" y1="340.75" x2="58.4" y2="340.75" stroke="#1a1a1a" stroke-width="1.3"/>
<text x="51.1" y="344.1" font-size="10.6" text-anchor="end" font-weight="normal" fill="#222" textLength="10.0" lengthAdjust="spacingAndGlyphs" class="tk">20</text>
<line x1="54.6" y1="310.75" x2="58.4" y2="310.75" stroke="#1a1a1a" stroke-width="1.3"/>
<text x="51.1" y="314.1" font-size="10.6" text-anchor="end" font-weight="normal" fill="#222" textLength="10.0" lengthAdjust="spacingAndGlyphs" class="tk">40</text>
<line x1="54.6" y1="280.75" x2="58.4" y2="280.75" stroke="#1a1a1a" stroke-width="1.3"/>
<text x="51.1" y="284.1" font-size="10.6" text-anchor="end" font-weight="normal" fill="#222" textLength="10.0" lengthAdjust="spacingAndGlyphs" class="tk">60</text>
<line x1="54.6" y1="250.75" x2="58.4" y2="250.75" stroke="#1a1a1a" stroke-width="1.3"/>
<text x="51.1" y="254.10000000000002" font-size="10.6" text-anchor="end" font-weight="normal" fill="#222" textLength="10.0" lengthAdjust="spacingAndGlyphs" class="tk">80</text>
<line x1="72.70" y1="370.6" x2="72.70" y2="373.6" stroke="#1a1a1a" stroke-width="1"/>
<line x1="94.33" y1="370.6" x2="94.33" y2="373.6" stroke="#1a1a1a" stroke-width="1"/>
<line x1="115.96" y1="370.6" x2="115.96" y2="373.6" stroke="#1a1a1a" stroke-width="1"/>
<line x1="137.59" y1="370.6" x2="137.59" y2="373.6" stroke="#1a1a1a" stroke-width="1"/>
<line x1="159.22" y1="370.6" x2="159.22" y2="373.6" stroke="#1a1a1a" stroke-width="1"/>
<line x1="180.85" y1="370.6" x2="180.85" y2="373.6" stroke="#1a1a1a" stroke-width="1"/>
<line x1="202.48" y1="370.6" x2="202.48" y2="373.6" stroke="#1a1a1a" stroke-width="1"/>
<line x1="224.11" y1="370.6" x2="224.11" y2="373.6" stroke="#1a1a1a" stroke-width="1"/>
<text x="51.4" y="384.0" font-size="9.6" text-anchor="end" font-weight="normal" font-style="italic" fill="#222" textLength="25" lengthAdjust="spacingAndGlyphs">Bmp5</text>
<text x="51.4" y="397.1" font-size="9.6" text-anchor="end" font-weight="normal" font-style="italic" fill="#222" textLength="25" lengthAdjust="spacingAndGlyphs">Bmp6</text>
<text x="72.70" y="384.0" font-size="9.4" text-anchor="middle" font-weight="normal" font-style="italic" fill="#222" textLength="10.8" lengthAdjust="spacingAndGlyphs">wt</text>
<text x="72.70" y="397.1" font-size="9.4" text-anchor="middle" font-weight="normal" font-style="italic" fill="#222" textLength="10.8" lengthAdjust="spacingAndGlyphs">wt</text>
<text x="94.33" y="384.0" font-size="9.4" text-anchor="middle" font-weight="normal" font-style="italic" fill="#222" textLength="9.2" lengthAdjust="spacingAndGlyphs">se</text>
<text x="94.33" y="397.1" font-size="9.4" text-anchor="middle" font-weight="normal" font-style="italic" fill="#222" textLength="10.8" lengthAdjust="spacingAndGlyphs">wt</text>
<text x="115.96" y="384.0" font-size="9.4" text-anchor="middle" font-weight="normal" font-style="italic" fill="#222" textLength="13.4" lengthAdjust="spacingAndGlyphs">het</text>
<text x="115.96" y="397.1" font-size="9.4" text-anchor="middle" font-weight="normal" font-style="italic" fill="#222" textLength="13.4" lengthAdjust="spacingAndGlyphs">het</text>
<text x="137.59" y="384.0" font-size="9.4" text-anchor="middle" font-weight="normal" font-style="italic" fill="#222" textLength="9.2" lengthAdjust="spacingAndGlyphs">se</text>
<text x="137.59" y="397.1" font-size="9.4" text-anchor="middle" font-weight="normal" font-style="italic" fill="#222" textLength="13.4" lengthAdjust="spacingAndGlyphs">het</text>
<text x="159.22" y="384.0" font-size="9.4" text-anchor="middle" font-weight="normal" font-style="italic" fill="#222" textLength="10.8" lengthAdjust="spacingAndGlyphs">wt</text>
<text x="159.22" y="397.1" font-size="9.4" text-anchor="middle" font-weight="normal" font-style="italic" fill="#222" textLength="10.8" lengthAdjust="spacingAndGlyphs">wt</text>
<text x="180.85" y="384.0" font-size="9.4" text-anchor="middle" font-weight="normal" font-style="italic" fill="#222" textLength="9.2" lengthAdjust="spacingAndGlyphs">se</text>
<text x="180.85" y="397.1" font-size="9.4" text-anchor="middle" font-weight="normal" font-style="italic" fill="#222" textLength="10.8" lengthAdjust="spacingAndGlyphs">wt</text>
<text x="202.48" y="384.0" font-size="9.4" text-anchor="middle" font-weight="normal" font-style="italic" fill="#222" textLength="13.4" lengthAdjust="spacingAndGlyphs">het</text>
<text x="202.48" y="397.1" font-size="9.4" text-anchor="middle" font-weight="normal" font-style="italic" fill="#222" textLength="13.4" lengthAdjust="spacingAndGlyphs">het</text>
<text x="224.11" y="384.0" font-size="9.4" text-anchor="middle" font-weight="normal" font-style="italic" fill="#222" textLength="9.2" lengthAdjust="spacingAndGlyphs">se</text>
<text x="224.11" y="397.1" font-size="9.4" text-anchor="middle" font-weight="normal" font-style="italic" fill="#222" textLength="13.4" lengthAdjust="spacingAndGlyphs">het</text>
<line x1="64.9" y1="404.0" x2="147.2" y2="404.0" stroke="#1a1a1a" stroke-width="1.1"/>
<line x1="154.7" y1="404.0" x2="237.0" y2="404.0" stroke="#1a1a1a" stroke-width="1.1"/>
<text x="107.05" y="415.20000000000005" font-size="9.9" text-anchor="middle" font-weight="normal" fill="#222" textLength="20.2" lengthAdjust="spacingAndGlyphs" class="tk">Male</text>
<text x="195.85" y="415.20000000000005" font-size="9.9" text-anchor="middle" font-weight="normal" fill="#222" textLength="31.2" lengthAdjust="spacingAndGlyphs" class="tk">Female</text>
<text x="8.2" y="233.8" font-size="14" text-anchor="start" font-weight="bold" fill="#000" style="stroke:#000;stroke-width:0.3px">C</text>
<text transform="translate(35.4,305.5) rotate(-90)" font-size="10" text-anchor="middle" fill="#222" textLength="72.3" lengthAdjust="spacingAndGlyphs">Tf saturation (%)</text>
<line x1="92.8" y1="258.3" x2="137.5" y2="258.3" stroke="#1a1a1a" stroke-width="1.1"/>
<polygon points="115.20,251.40 115.76,252.63 117.10,252.78 116.10,253.69 116.38,255.02 115.20,254.35 114.02,255.02 114.30,253.69 113.30,252.78 114.64,252.63" fill="#1e1e1e"/>
<line x1="155.8" y1="245.7" x2="222.3" y2="245.7" stroke="#1a1a1a" stroke-width="1.1"/>
<polygon points="187.35,238.80 187.91,240.03 189.25,240.18 188.25,241.09 188.53,242.42 187.35,241.75 186.17,242.42 186.45,241.09 185.45,240.18 186.79,240.03" fill="#1e1e1e"/>
<polygon points="191.65,238.80 192.21,240.03 193.55,240.18 192.55,241.09 192.83,242.42 191.65,241.75 190.47,242.42 190.75,241.09 189.75,240.18 191.09,240.03" fill="#1e1e1e"/>
<line x1="178.9" y1="257.5" x2="222.6" y2="257.5" stroke="#1a1a1a" stroke-width="1.1"/>
<polygon points="200.80,250.60 201.36,251.83 202.70,251.98 201.70,252.89 201.98,254.22 200.80,253.55 199.62,254.22 199.90,252.89 198.90,251.98 200.24,251.83" fill="#1e1e1e"/>
<line x1="204.6" y1="270.0" x2="225.7" y2="270.0" stroke="#1a1a1a" stroke-width="1.1"/>
<polygon points="213.05,263.10 213.61,264.33 214.95,264.48 213.95,265.39 214.23,266.72 213.05,266.05 211.87,266.72 212.15,265.39 211.15,264.48 212.49,264.33" fill="#1e1e1e"/>
<polygon points="217.35,263.10 217.91,264.33 219.25,264.48 218.25,265.39 218.53,266.72 217.35,266.05 216.17,266.72 216.45,265.39 215.45,264.48 216.79,264.33" fill="#1e1e1e"/>
<rect x="339.60" y="328.80" width="13.0" height="39.00" fill="#c5c4c9"/>
<rect x="361.23" y="332.60" width="13.0" height="35.20" fill="#fab815"/>
<rect x="382.86" y="329.10" width="13.0" height="38.70" fill="#3aa935"/>
<rect x="404.49" y="336.50" width="13.0" height="31.30" fill="#35a7e0"/>
<rect x="426.12" y="297.60" width="13.0" height="70.20" fill="#c5c4c9"/>
<rect x="447.75" y="295.60" width="13.0" height="72.20" fill="#fab815"/>
<rect x="469.38" y="315.00" width="13.0" height="52.80" fill="#3aa935"/>
<rect x="491.01" y="312.80" width="13.0" height="55.00" fill="#35a7e0"/>
<line x1="346.10" y1="322.30" x2="346.10" y2="335.30" stroke="#1a1a1a" stroke-width="1.15"/>
<line x1="342.80" y1="322.30" x2="349.40" y2="322.30" stroke="#1a1a1a" stroke-width="1.15"/>
<line x1="342.80" y1="335.30" x2="349.40" y2="335.30" stroke="#1a1a1a" stroke-width="1.15"/>
<line x1="367.73" y1="325.20" x2="367.73" y2="340.00" stroke="#1a1a1a" stroke-width="1.15"/>
<line x1="364.43" y1="325.20" x2="371.03" y2="325.20" stroke="#1a1a1a" stroke-width="1.15"/>
<line x1="364.43" y1="340.00" x2="371.03" y2="340.00" stroke="#1a1a1a" stroke-width="1.15"/>
<line x1="389.36" y1="325.50" x2="389.36" y2="332.70" stroke="#1a1a1a" stroke-width="1.15"/>
<line x1="386.06" y1="325.50" x2="392.66" y2="325.50" stroke="#1a1a1a" stroke-width="1.15"/>
<line x1="386.06" y1="332.70" x2="392.66" y2="332.70" stroke="#1a1a1a" stroke-width="1.15"/>
<line x1="410.99" y1="332.00" x2="410.99" y2="341.00" stroke="#1a1a1a" stroke-width="1.15"/>
<line x1="407.69" y1="332.00" x2="414.29" y2="332.00" stroke="#1a1a1a" stroke-width="1.15"/>
<line x1="407.69" y1="341.00" x2="414.29" y2="341.00" stroke="#1a1a1a" stroke-width="1.15"/>
<line x1="432.62" y1="294.10" x2="432.62" y2="301.10" stroke="#1a1a1a" stroke-width="1.15"/>
<line x1="429.32" y1="294.10" x2="435.92" y2="294.10" stroke="#1a1a1a" stroke-width="1.15"/>
<line x1="429.32" y1="301.10" x2="435.92" y2="301.10" stroke="#1a1a1a" stroke-width="1.15"/>
<line x1="454.25" y1="288.60" x2="454.25" y2="302.60" stroke="#1a1a1a" stroke-width="1.15"/>
<line x1="450.95" y1="288.60" x2="457.55" y2="288.60" stroke="#1a1a1a" stroke-width="1.15"/>
<line x1="450.95" y1="302.60" x2="457.55" y2="302.60" stroke="#1a1a1a" stroke-width="1.15"/>
<line x1="475.88" y1="308.40" x2="475.88" y2="321.60" stroke="#1a1a1a" stroke-width="1.15"/>
<line x1="472.58" y1="308.40" x2="479.18" y2="308.40" stroke="#1a1a1a" stroke-width="1.15"/>
<line x1="472.58" y1="321.60" x2="479.18" y2="321.60" stroke="#1a1a1a" stroke-width="1.15"/>
<line x1="497.51" y1="305.30" x2="497.51" y2="320.30" stroke="#1a1a1a" stroke-width="1.15"/>
<line x1="494.21" y1="305.30" x2="500.81" y2="305.30" stroke="#1a1a1a" stroke-width="1.15"/>
<line x1="494.21" y1="320.30" x2="500.81" y2="320.30" stroke="#1a1a1a" stroke-width="1.15"/>
<circle cx="346.20" cy="297.10" r="2.05" fill="none" stroke="#1a1a1a" stroke-width="1.2"/>
<circle cx="340.60" cy="322.30" r="2.05" fill="none" stroke="#1a1a1a" stroke-width="1.2"/>
<circle cx="345.80" cy="322.10" r="2.05" fill="none" stroke="#1a1a1a" stroke-width="1.2"/>
<circle cx="350.80" cy="321.70" r="2.05" fill="none" stroke="#1a1a1a" stroke-width="1.2"/>
<circle cx="345.80" cy="329.90" r="2.05" fill="none" stroke="#1a1a1a" stroke-width="1.2"/>
<circle cx="340.90" cy="333.80" r="2.05" fill="none" stroke="#1a1a1a" stroke-width="1.2"/>
<circle cx="350.50" cy="335.00" r="2.05" fill="none" stroke="#1a1a1a" stroke-width="1.2"/>
<circle cx="345.80" cy="341.20" r="2.05" fill="none" stroke="#1a1a1a" stroke-width="1.2"/>
<circle cx="345.80" cy="345.80" r="2.05" fill="none" stroke="#1a1a1a" stroke-width="1.2"/>
<circle cx="367.90" cy="304.10" r="2.05" fill="none" stroke="#1a1a1a" stroke-width="1.2"/>
<circle cx="367.90" cy="315.30" r="2.05" fill="none" stroke="#1a1a1a" stroke-width="1.2"/>
<circle cx="367.90" cy="321.10" r="2.05" fill="none" stroke="#1a1a1a" stroke-width="1.2"/>
<circle cx="367.90" cy="328.80" r="2.05" fill="none" stroke="#1a1a1a" stroke-width="1.2"/>
<circle cx="367.60" cy="334.10" r="2.05" fill="none" stroke="#1a1a1a" stroke-width="1.2"/>
<circle cx="367.60" cy="344.10" r="2.05" fill="none" stroke="#1a1a1a" stroke-width="1.2"/>
<circle cx="367.60" cy="348.80" r="2.05" fill="none" stroke="#1a1a1a" stroke-width="1.2"/>
<circle cx="367.60" cy="355.20" r="2.05" fill="none" stroke="#1a1a1a" stroke-width="1.2"/>
<circle cx="384.50" cy="318.80" r="2.05" fill="none" stroke="#1a1a1a" stroke-width="1.2"/>
<circle cx="394.20" cy="317.30" r="2.05" fill="none" stroke="#1a1a1a" stroke-width="1.2"/>
<circle cx="384.50" cy="325.50" r="2.05" fill="none" stroke="#1a1a1a" stroke-width="1.2"/>
<circle cx="394.20" cy="323.20" r="2.05" fill="none" stroke="#1a1a1a" stroke-width="1.2"/>
<circle cx="384.50" cy="329.90" r="2.05" fill="none" stroke="#1a1a1a" stroke-width="1.2"/>
<circle cx="394.20" cy="329.60" r="2.05" fill="none" stroke="#1a1a1a" stroke-width="1.2"/>
<circle cx="394.20" cy="338.10" r="2.05" fill="none" stroke="#1a1a1a" stroke-width="1.2"/>
<circle cx="384.50" cy="340.80" r="2.05" fill="none" stroke="#1a1a1a" stroke-width="1.2"/>
<circle cx="411.10" cy="322.40" r="2.05" fill="none" stroke="#1a1a1a" stroke-width="1.2"/>
<circle cx="405.90" cy="329.40" r="2.05" fill="none" stroke="#1a1a1a" stroke-width="1.2"/>
<circle cx="415.80" cy="328.20" r="2.05" fill="none" stroke="#1a1a1a" stroke-width="1.2"/>
<circle cx="412.30" cy="332.20" r="2.05" fill="none" stroke="#1a1a1a" stroke-width="1.2"/>
<circle cx="405.60" cy="335.50" r="2.05" fill="none" stroke="#1a1a1a" stroke-width="1.2"/>
<circle cx="408.80" cy="335.80" r="2.05" fill="none" stroke="#1a1a1a" stroke-width="1.2"/>
<circle cx="415.80" cy="334.10" r="2.05" fill="none" stroke="#1a1a1a" stroke-width="1.2"/>
<circle cx="411.10" cy="349.00" r="2.05" fill="none" stroke="#1a1a1a" stroke-width="1.2"/>
<circle cx="411.10" cy="354.30" r="2.05" fill="none" stroke="#1a1a1a" stroke-width="1.2"/>
<circle cx="432.70" cy="282.10" r="2.25" fill="#1a1a1a"/>
<circle cx="432.70" cy="288.00" r="2.25" fill="#1a1a1a"/>
<circle cx="427.60" cy="295.50" r="2.25" fill="#1a1a1a"/>
<circle cx="437.40" cy="299.40" r="2.25" fill="#1a1a1a"/>
<circle cx="427.60" cy="302.30" r="2.25" fill="#1a1a1a"/>
<circle cx="437.40" cy="306.80" r="2.25" fill="#1a1a1a"/>
<circle cx="427.60" cy="310.80" r="2.25" fill="#1a1a1a"/>
<circle cx="459.20" cy="274.10" r="2.25" fill="#1a1a1a"/>
<circle cx="449.40" cy="278.30" r="2.25" fill="#1a1a1a"/>
<circle cx="454.30" cy="288.50" r="2.25" fill="#1a1a1a"/>
<circle cx="454.30" cy="303.50" r="2.25" fill="#1a1a1a"/>
<circle cx="459.30" cy="311.70" r="2.25" fill="#1a1a1a"/>
<circle cx="449.10" cy="313.50" r="2.25" fill="#1a1a1a"/>
<circle cx="480.80" cy="298.20" r="2.25" fill="#1a1a1a"/>
<circle cx="470.80" cy="302.30" r="2.25" fill="#1a1a1a"/>
<circle cx="475.80" cy="302.30" r="2.25" fill="#1a1a1a"/>
<circle cx="480.80" cy="302.90" r="2.25" fill="#1a1a1a"/>
<circle cx="475.80" cy="314.10" r="2.25" fill="#1a1a1a"/>
<circle cx="475.80" cy="330.00" r="2.25" fill="#1a1a1a"/>
<circle cx="475.80" cy="346.40" r="2.25" fill="#1a1a1a"/>
<circle cx="497.40" cy="274.50" r="2.25" fill="#1a1a1a"/>
<circle cx="492.30" cy="298.20" r="2.25" fill="#1a1a1a"/>
<circle cx="502.80" cy="301.90" r="2.25" fill="#1a1a1a"/>
<circle cx="492.30" cy="305.20" r="2.25" fill="#1a1a1a"/>
<circle cx="497.40" cy="315.30" r="2.25" fill="#1a1a1a"/>
<circle cx="497.40" cy="324.10" r="2.25" fill="#1a1a1a"/>
<circle cx="497.40" cy="331.70" r="2.25" fill="#1a1a1a"/>
<circle cx="497.40" cy="343.50" r="2.25" fill="#1a1a1a"/>
<line x1="331.9" y1="244.1" x2="331.9" y2="368.3" stroke="#1a1a1a" stroke-width="1.2"/>
<line x1="331.29999999999995" y1="367.8" x2="512.2" y2="367.8" stroke="#1a1a1a" stroke-width="1.2"/>
<line x1="328.09999999999997" y1="367.95" x2="331.9" y2="367.95" stroke="#1a1a1a" stroke-width="1.3"/>
<text x="324.59999999999997" y="371.3" font-size="10.6" text-anchor="end" font-weight="normal" fill="#222" textLength="12.7" lengthAdjust="spacingAndGlyphs" class="tk">0.0</text>
<line x1="328.09999999999997" y1="347.95" x2="331.9" y2="347.95" stroke="#1a1a1a" stroke-width="1.3"/>
<text x="324.59999999999997" y="351.3" font-size="10.6" text-anchor="end" font-weight="normal" fill="#222" textLength="12.7" lengthAdjust="spacingAndGlyphs" class="tk">0.5</text>
<line x1="328.09999999999997" y1="327.95" x2="331.9" y2="327.95" stroke="#1a1a1a" stroke-width="1.3"/>
<text x="324.59999999999997" y="331.3" font-size="10.6" text-anchor="end" font-weight="normal" fill="#222" textLength="12.7" lengthAdjust="spacingAndGlyphs" class="tk">1.0</text>
<line x1="328.09999999999997" y1="307.95" x2="331.9" y2="307.95" stroke="#1a1a1a" stroke-width="1.3"/>
<text x="324.59999999999997" y="311.3" font-size="10.6" text-anchor="end" font-weight="normal" fill="#222" textLength="12.7" lengthAdjust="spacingAndGlyphs" class="tk">1.5</text>
<line x1="328.09999999999997" y1="287.95" x2="331.9" y2="287.95" stroke="#1a1a1a" stroke-width="1.3"/>
<text x="324.59999999999997" y="291.3" font-size="10.6" text-anchor="end" font-weight="normal" fill="#222" textLength="12.7" lengthAdjust="spacingAndGlyphs" class="tk">2.0</text>
<line x1="328.09999999999997" y1="267.95" x2="331.9" y2="267.95" stroke="#1a1a1a" stroke-width="1.3"/>
<text x="324.59999999999997" y="271.3" font-size="10.6" text-anchor="end" font-weight="normal" fill="#222" textLength="12.7" lengthAdjust="spacingAndGlyphs" class="tk">2.5</text>
<line x1="328.09999999999997" y1="247.95" x2="331.9" y2="247.95" stroke="#1a1a1a" stroke-width="1.3"/>
<text x="324.59999999999997" y="251.3" font-size="10.6" text-anchor="end" font-weight="normal" fill="#222" textLength="12.7" lengthAdjust="spacingAndGlyphs" class="tk">3.0</text>
<line x1="346.10" y1="367.8" x2="346.10" y2="370.8" stroke="#1a1a1a" stroke-width="1"/>
<line x1="367.73" y1="367.8" x2="367.73" y2="370.8" stroke="#1a1a1a" stroke-width="1"/>
<line x1="389.36" y1="367.8" x2="389.36" y2="370.8" stroke="#1a1a1a" stroke-width="1"/>
<line x1="410.99" y1="367.8" x2="410.99" y2="370.8" stroke="#1a1a1a" stroke-width="1"/>
<line x1="432.62" y1="367.8" x2="432.62" y2="370.8" stroke="#1a1a1a" stroke-width="1"/>
<line x1="454.25" y1="367.8" x2="454.25" y2="370.8" stroke="#1a1a1a" stroke-width="1"/>
<line x1="475.88" y1="367.8" x2="475.88" y2="370.8" stroke="#1a1a1a" stroke-width="1"/>
<line x1="497.51" y1="367.8" x2="497.51" y2="370.8" stroke="#1a1a1a" stroke-width="1"/>
<text x="324.9" y="381.2" font-size="9.6" text-anchor="end" font-weight="normal" font-style="italic" fill="#222" textLength="25" lengthAdjust="spacingAndGlyphs">Bmp5</text>
<text x="324.9" y="394.3" font-size="9.6" text-anchor="end" font-weight="normal" font-style="italic" fill="#222" textLength="25" lengthAdjust="spacingAndGlyphs">Bmp6</text>
<text x="346.10" y="381.2" font-size="9.4" text-anchor="middle" font-weight="normal" font-style="italic" fill="#222" textLength="10.8" lengthAdjust="spacingAndGlyphs">wt</text>
<text x="346.10" y="394.3" font-size="9.4" text-anchor="middle" font-weight="normal" font-style="italic" fill="#222" textLength="10.8" lengthAdjust="spacingAndGlyphs">wt</text>
<text x="367.73" y="381.2" font-size="9.4" text-anchor="middle" font-weight="normal" font-style="italic" fill="#222" textLength="9.2" lengthAdjust="spacingAndGlyphs">se</text>
<text x="367.73" y="394.3" font-size="9.4" text-anchor="middle" font-weight="normal" font-style="italic" fill="#222" textLength="10.8" lengthAdjust="spacingAndGlyphs">wt</text>
<text x="389.36" y="381.2" font-size="9.4" text-anchor="middle" font-weight="normal" font-style="italic" fill="#222" textLength="13.4" lengthAdjust="spacingAndGlyphs">het</text>
<text x="389.36" y="394.3" font-size="9.4" text-anchor="middle" font-weight="normal" font-style="italic" fill="#222" textLength="13.4" lengthAdjust="spacingAndGlyphs">het</text>
<text x="410.99" y="381.2" font-size="9.4" text-anchor="middle" font-weight="normal" font-style="italic" fill="#222" textLength="9.2" lengthAdjust="spacingAndGlyphs">se</text>
<text x="410.99" y="394.3" font-size="9.4" text-anchor="middle" font-weight="normal" font-style="italic" fill="#222" textLength="13.4" lengthAdjust="spacingAndGlyphs">het</text>
<text x="432.62" y="381.2" font-size="9.4" text-anchor="middle" font-weight="normal" font-style="italic" fill="#222" textLength="10.8" lengthAdjust="spacingAndGlyphs">wt</text>
<text x="432.62" y="394.3" font-size="9.4" text-anchor="middle" font-weight="normal" font-style="italic" fill="#222" textLength="10.8" lengthAdjust="spacingAndGlyphs">wt</text>
<text x="454.25" y="381.2" font-size="9.4" text-anchor="middle" font-weight="normal" font-style="italic" fill="#222" textLength="9.2" lengthAdjust="spacingAndGlyphs">se</text>
<text x="454.25" y="394.3" font-size="9.4" text-anchor="middle" font-weight="normal" font-style="italic" fill="#222" textLength="10.8" lengthAdjust="spacingAndGlyphs">wt</text>
<text x="475.88" y="381.2" font-size="9.4" text-anchor="middle" font-weight="normal" font-style="italic" fill="#222" textLength="13.4" lengthAdjust="spacingAndGlyphs">het</text>
<text x="475.88" y="394.3" font-size="9.4" text-anchor="middle" font-weight="normal" font-style="italic" fill="#222" textLength="13.4" lengthAdjust="spacingAndGlyphs">het</text>
<text x="497.51" y="381.2" font-size="9.4" text-anchor="middle" font-weight="normal" font-style="italic" fill="#222" textLength="9.2" lengthAdjust="spacingAndGlyphs">se</text>
<text x="497.51" y="394.3" font-size="9.4" text-anchor="middle" font-weight="normal" font-style="italic" fill="#222" textLength="13.4" lengthAdjust="spacingAndGlyphs">het</text>
<line x1="338.5" y1="401.2" x2="420.5" y2="401.2" stroke="#1a1a1a" stroke-width="1.1"/>
<line x1="428.2" y1="401.2" x2="510.5" y2="401.2" stroke="#1a1a1a" stroke-width="1.1"/>
<text x="380.5" y="412.40000000000003" font-size="9.9" text-anchor="middle" font-weight="normal" fill="#222" textLength="20.2" lengthAdjust="spacingAndGlyphs" class="tk">Male</text>
<text x="469.35" y="412.40000000000003" font-size="9.9" text-anchor="middle" font-weight="normal" fill="#222" textLength="31.2" lengthAdjust="spacingAndGlyphs" class="tk">Female</text>
<text x="282.2" y="231.2" font-size="14" text-anchor="start" font-weight="bold" fill="#000" style="stroke:#000;stroke-width:0.3px">D</text>
<text transform="translate(291.7,304.6) rotate(-90)" font-size="10" text-anchor="middle" fill="#222" textLength="80.2" lengthAdjust="spacingAndGlyphs"><tspan font-style="italic">Bmp6/Rpl19</tspan> mRNA</text>
<text transform="translate(305.6,304.9) rotate(-90)" font-size="10" text-anchor="middle" fill="#222" textLength="47.0" lengthAdjust="spacingAndGlyphs">fold change</text>
<rect x="0.5" y="0.5" width="519" height="425" fill="none" stroke="#3c3c3c" stroke-width="1"/>
</svg>
</body></html>
